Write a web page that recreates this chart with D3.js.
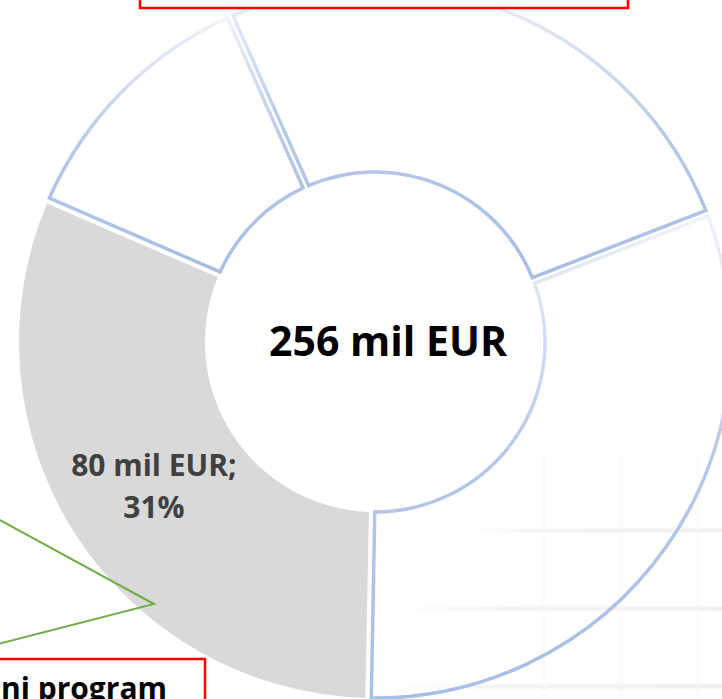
<!DOCTYPE html>
<html>
<head>
<meta charset="utf-8">
<script src="https://cdn.jsdelivr.net/npm/d3@7"></script>
<style>
    body { margin: 0; background: #fff; overflow: hidden; }
    svg { display: block; font-family: 'Open Sans', sans-serif; }
</style>
</head>
<body>
<div id="chart"></div>
<script>
// slices clockwise, starting at the upper left edge
let categories = ['Segment 1', 'Segment 2', 'Segment 3', 'Segment 4'];
let values = [66, 80, 80, 30];
let fills = ['none', 'none', '#d9d9d9', 'none'];
let showLabel = [false, false, true, false];
let unit = 'mil EUR';

let width = 722;
let height = 699;
let cx = 375;
let cy = 342;
let innerRadius = 170;
let outerRadius = 356;
let start = -24 * Math.PI / 180;

let svg = d3.select('#chart')
    .append('svg')
    .attr('width', width)
    .attr('height', height);

let defs = svg.append('defs');

// slice outline: almost white on top, light blue at the bottom
let edge = defs.append('linearGradient')
    .attr('id', 'edge')
    .attr('x1', 0).attr('y1', 0)
    .attr('x2', 0).attr('y2', 1);
edge.append('stop').attr('offset', 0).attr('stop-color', '#eef2fa');
edge.append('stop').attr('offset', 0.5).attr('stop-color', '#b6c8e8');
edge.append('stop').attr('offset', 1).attr('stop-color', '#a8bee4');

let fade = defs.append('linearGradient')
    .attr('id', 'fade')
    .attr('x1', 0).attr('y1', 0)
    .attr('x2', 1).attr('y2', 0);
fade.append('stop').attr('offset', 0).attr('stop-color', '#d8d8d8').attr('stop-opacity', 0);
fade.append('stop').attr('offset', 0.3).attr('stop-color', '#d8d8d8').attr('stop-opacity', 0.45);
fade.append('stop').attr('offset', 1).attr('stop-color', '#d0d0d0').attr('stop-opacity', 0.55);

defs.append('filter').attr('id', 'soft')
    .append('feGaussianBlur').attr('stdDeviation', 1.5);

// faint brick texture behind the lower right part
let texture = svg.append('g').attr('filter', 'url(#soft)');
[[460, 530], [390, 608], [390, 686]].forEach(function (r) {
    texture.append('rect')
        .attr('x', r[0]).attr('y', r[1] - 1)
        .attr('width', width - r[0] + 10).attr('height', 3)
        .attr('fill', 'url(#fade)');
});
[543, 620, 697].forEach(function (x) {
    texture.append('rect')
        .attr('x', x).attr('y', 455)
        .attr('width', 2).attr('height', height - 455)
        .attr('fill', '#f7f7f7');
});

let pie = d3.pie()
    .sort(null)
    .value(function (d) { return d; })
    .startAngle(start)
    .endAngle(start + 2 * Math.PI)
    .padAngle(0.015);

let arc = d3.arc()
    .innerRadius(innerRadius)
    .outerRadius(outerRadius);

let g = svg.append('g')
    .attr('transform', 'translate(' + cx + ',' + cy + ')');

let arcs = g.selectAll('g.slice')
    .data(pie(values))
    .enter()
    .append('g')
    .attr('class', 'slice');

arcs.append('path')
    .attr('d', arc)
    .attr('fill', function (d, i) { return fills[i]; })
    .attr('stroke', function (d, i) { return fills[i] == 'none' ? 'url(#edge)' : 'none'; })
    .attr('stroke-width', 3.5)
    .attr('stroke-linejoin', 'miter')
    .append('title')
    .text(function (d, i) { return categories[i]; });

let total = d3.sum(values);

arcs.filter(function (d, i) { return showLabel[i]; })
    .append('text')
    .attr('transform', function (d) { return 'translate(' + arc.centroid(d) + ')'; })
    .attr('text-anchor', 'middle')
    .attr('font-size', 30)
    .attr('font-weight', 700)
    .attr('fill', '#404040')
    .each(function (d) {
        let t = d3.select(this);
        t.append('tspan').attr('x', 0).attr('y', -8).text(d.data + ' ' + unit + ';');
        t.append('tspan').attr('x', 0).attr('y', 34).text(Math.round(d.data / total * 100) + '%');
    });

svg.append('text')
    .attr('x', 388)
    .attr('y', 356)
    .attr('text-anchor', 'middle')
    .attr('font-size', 41)
    .attr('font-weight', 700)
    .attr('fill', '#000')
    .text(total + ' ' + unit);

// callout pointer and the two cut-off text boxes
svg.append('polyline')
    .attr('points', '-2,519 154,604 -2,644')
    .attr('fill', 'none')
    .attr('stroke', '#70ad47')
    .attr('stroke-width', 2);

svg.append('rect')
    .attr('x', 140).attr('y', -20)
    .attr('width', 488).attr('height', 28)
    .attr('fill', '#fff')
    .attr('stroke', '#ff0000')
    .attr('stroke-width', 2.5);

svg.append('rect')
    .attr('x', -20).attr('y', 659)
    .attr('width', 225).attr('height', 80)
    .attr('fill', '#fff')
    .attr('stroke', '#ff0000')
    .attr('stroke-width', 2.5);

svg.append('text')
    .attr('x', 167)
    .attr('y', 699)
    .attr('text-anchor', 'end')
    .attr('font-size', 30)
    .attr('font-weight', 700)
    .attr('fill', '#000')
    .text('ni program');
</script>
</body>
</html>
